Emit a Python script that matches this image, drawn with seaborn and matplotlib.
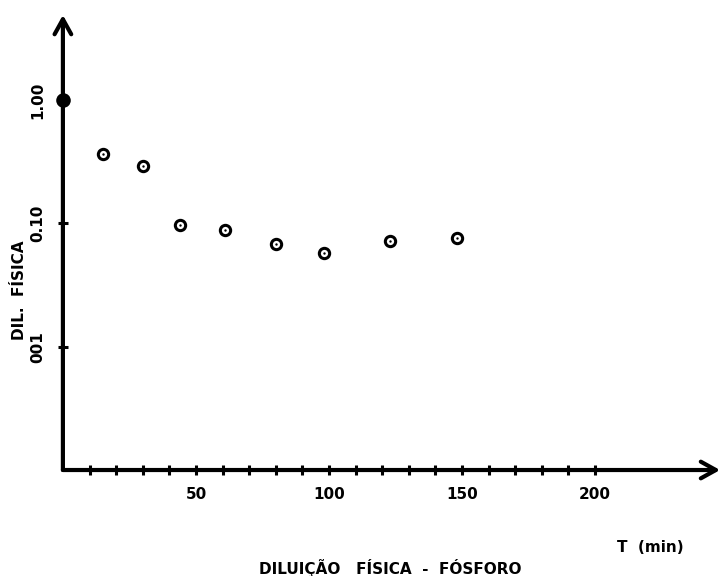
import matplotlib
matplotlib.use("Agg")
import matplotlib.pyplot as plt
import seaborn as sns
import pandas as pd

# time (min) and physical dilution
t_min = [15, 30, 44, 61, 80, 98, 123, 148]
dil_fisica = [0.365, 0.29, 0.097, 0.088, 0.068, 0.057, 0.072, 0.076]
t_start = [0]
dil_start = [1.0]

x_ticks = list(range(10, 201, 10))
x_labels = [str(v) if v in (50, 100, 150, 200) else "" for v in x_ticks]
y_ticks = [1.0, 0.1, 0.01]
y_labels = ["1.00", "0.10", "001"]

sns.set_theme(style="white")
plt.rcParams['font.family'] = ['DejaVu Sans']
plt.rcParams['font.weight'] = 'bold'
plt.rcParams['text.color'] = 'black'
plt.rcParams['xtick.color'] = 'black'
plt.rcParams['ytick.color'] = 'black'

df = pd.DataFrame({"t": t_min, "dil": dil_fisica})
df0 = pd.DataFrame({"t": t_start, "dil": dil_start})

fig = plt.figure(figsize=(7.23, 5.76), dpi=100)
ax = fig.add_axes([0.087, 0.184, 0.909, 0.79])

sns.scatterplot(data=df, x="t", y="dil", ax=ax, marker="o", s=55,
                facecolor="white", edgecolor="black", linewidth=2.2, zorder=3)
sns.scatterplot(data=df, x="t", y="dil", ax=ax, marker="o", s=3,
                color="black", edgecolor="black", linewidth=0, zorder=4)
sns.scatterplot(data=df0, x="t", y="dil", ax=ax, marker="o", s=110,
                color="black", edgecolor="black", linewidth=0, zorder=5, clip_on=False)

ax.set_yscale("log")
ax.set_xlim(0, 247)
ax.set_ylim(0.001, 4.9)

ax.set_xticks(x_ticks)
ax.set_xticklabels(x_labels, fontsize=11, fontweight="bold")
ax.set_yticks(y_ticks)
ax.set_yticklabels(y_labels, fontsize=11, fontweight="bold", rotation=90, va="center")
ax.minorticks_off()
ax.tick_params(axis="both", which="major", direction="inout", length=7, width=2.2,
               color="black", labelcolor="black", bottom=True, left=True)
ax.tick_params(axis="x", pad=9)
ax.tick_params(axis="y", pad=9)

for s in ax.spines.values():
    s.set_visible(False)
ax.set_xlabel("")
ax.set_ylabel("")

# axes drawn as arrows
ax.annotate("", xy=(1.0, 0), xytext=(0, 0), xycoords="axes fraction",
            arrowprops=dict(arrowstyle="->,head_length=0.9,head_width=0.5", lw=3, color="black",
                            shrinkA=0, shrinkB=0))
ax.annotate("", xy=(0, 1.0), xytext=(0, 0), xycoords="axes fraction",
            arrowprops=dict(arrowstyle="->,head_length=0.9,head_width=0.5", lw=3, color="black",
                            shrinkA=0, shrinkB=0))

fig.text(20 / 723, 1 - 290 / 576, "DIL.  FÍSICA", rotation=90, ha="center", va="center",
         fontsize=11, fontweight="bold", color="black")
fig.text(650 / 723, 1 - 548 / 576, "T  (min)", ha="center", va="center",
         fontsize=11, fontweight="bold", color="black")
fig.text(390 / 723, 1 - 568 / 576, "DILUIÇÃO   FÍSICA  -  FÓSFORO", ha="center", va="center",
         fontsize=11, fontweight="bold", color="black")

fig.savefig("out.png", dpi=100)
plt.close(fig)
